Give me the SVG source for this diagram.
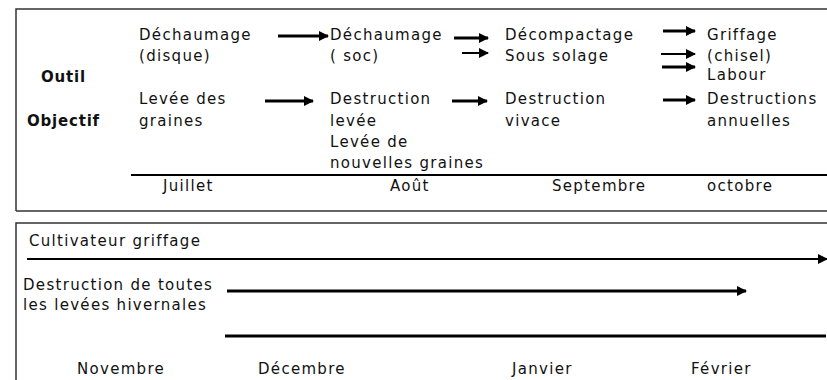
<svg xmlns="http://www.w3.org/2000/svg" width="827" height="380" viewBox="0 0 827 380">
<style>
text{font-family:"DejaVu Sans","Liberation Sans",sans-serif;font-size:15px;letter-spacing:1.3px;fill:#111}
.b{font-weight:bold;letter-spacing:0.8px}
.frame{fill:none;stroke:#333;stroke-width:1.5}
.a3{stroke:#000;stroke-width:3;fill:none}
.a2{stroke:#000;stroke-width:2;fill:none}
.ln{stroke:#000;stroke-width:2;fill:none}
</style>
<defs>
<marker id="ah" viewBox="0 0 10 10" refX="9" refY="5" markerWidth="11" markerHeight="10" markerUnits="userSpaceOnUse" orient="auto">
<path d="M0,0 L10,5 L0,10 z" fill="#000"/>
</marker>
</defs>
<rect width="827" height="380" fill="#fff"/>
<g id="frames">
<path class="frame" d="M16,211 V9 H827 M16,211 H827"/>
<path class="frame" d="M16,380 V223 H827"/>
</g>
<g id="labels">
<text class="b" x="41" y="82">Outil</text>
<text class="b" x="27" y="126">Objectif</text>
</g>
<g id="col1">
<text x="139" y="40">Déchaumage</text>
<text x="139" y="61">(disque)</text>
<text x="139" y="104">Levée des</text>
<text x="139" y="126">graines</text>
<text x="163" y="191">Juillet</text>
</g>
<g id="col2">
<text x="330" y="40">Déchaumage</text>
<text x="330" y="61">( soc)</text>
<text x="330" y="104">Destruction</text>
<text x="330" y="126">levée</text>
<text x="330" y="147">Levée de</text>
<text x="330" y="168">nouvelles graines</text>
<text x="390" y="191">Août</text>
</g>
<g id="col3">
<text x="505" y="40">Décompactage</text>
<text x="505" y="61">Sous solage</text>
<text x="505" y="104">Destruction</text>
<text x="505" y="126">vivace</text>
<text x="552" y="191">Septembre</text>
</g>
<g id="col4">
<text x="707" y="40">Griffage</text>
<text x="707" y="61">(chisel)</text>
<text x="707" y="80">Labour</text>
<text x="707" y="104">Destructions</text>
<text x="707" y="126">annuelles</text>
<text x="707" y="191">octobre</text>
</g>
<g id="bottom">
<text x="29" y="246">Cultivateur griffage</text>
<text x="23" y="290">Destruction de toutes</text>
<text x="23" y="310">les levées hivernales</text>
<text x="77" y="374">Novembre</text>
<text x="258" y="374">Décembre</text>
<text x="512" y="374">Janvier</text>
<text x="691" y="374">Février</text>
</g>
<g id="connectors">
<line class="ln" x1="131" y1="175" x2="827" y2="175"/>
<line class="a3" x1="278" y1="36" x2="328" y2="36" marker-end="url(#ah)"/>
<line class="a3" x1="265" y1="101" x2="313" y2="101" marker-end="url(#ah)"/>
<line class="a3" x1="454" y1="38" x2="488" y2="38" marker-end="url(#ah)"/>
<line class="a2" x1="462" y1="53" x2="488" y2="53" marker-end="url(#ah)"/>
<line class="a3" x1="452" y1="101" x2="487" y2="101" marker-end="url(#ah)"/>
<line class="a3" x1="663" y1="31" x2="695" y2="31" marker-end="url(#ah)"/>
<line class="a2" x1="661" y1="54" x2="695" y2="54" marker-end="url(#ah)"/>
<line class="a3" x1="662" y1="67" x2="695" y2="67" marker-end="url(#ah)"/>
<line class="a3" x1="663" y1="100" x2="695" y2="100" marker-end="url(#ah)"/>
<line class="a2" x1="27" y1="259" x2="827" y2="259" marker-end="url(#ah)"/>
<line class="a3" x1="227" y1="291" x2="746" y2="291" marker-end="url(#ah)"/>
<line class="a3" x1="225" y1="336" x2="826" y2="336"/>
</g>
</svg>
